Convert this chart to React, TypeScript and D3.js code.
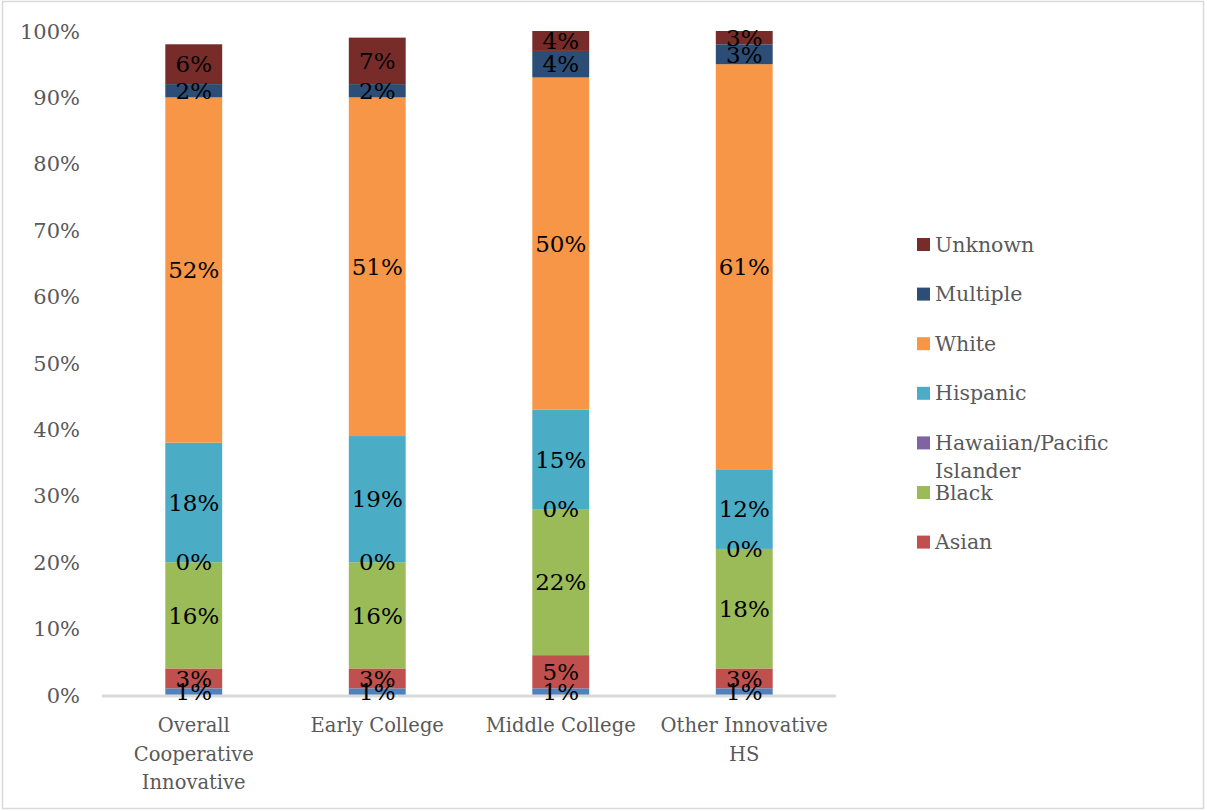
import { scaleBand, scaleLinear, stack } from "d3";

const width = 1207;
const height = 811;
const margin = { top: 31, right: 371, bottom: 116, left: 102 };
const innerWidth = width - margin.left - margin.right;
const innerHeight = height - margin.top - margin.bottom;

const categories = [
  ["Overall", "Cooperative", "Innovative"],
  ["Early College"],
  ["Middle College"],
  ["Other Innovative", "HS"],
];

// stack order from bottom to top
const seriesNames = [
  "American Indian",
  "Asian",
  "Black",
  "Hawaiian/Pacific Islander",
  "Hispanic",
  "White",
  "Multiple",
  "Unknown",
];
const seriesColors = [
  "#4f81bd",
  "#c0504d",
  "#9bbb59",
  "#8064a2",
  "#4bacc6",
  "#f79646",
  "#2c4d75",
  "#772c2a",
];

const americanIndian = [1, 1, 1, 1];
const asian = [3, 3, 5, 3];
const black = [16, 16, 22, 18];
const hawaiian = [0, 0, 0, 0];
const hispanic = [18, 19, 15, 12];
const white = [52, 51, 50, 61];
const multiple = [2, 2, 4, 3];
const unknown = [6, 7, 4, 3];

const yTicks = [0, 10, 20, 30, 40, 50, 60, 70, 80, 90, 100];

const legendItems = [
  { name: "Unknown", color: "#772c2a" },
  { name: "Multiple", color: "#2c4d75" },
  { name: "White", color: "#f79646" },
  { name: "Hispanic", color: "#4bacc6" },
  { name: "Hawaiian/Pacific|Islander", color: "#8064a2" },
  { name: "Black", color: "#9bbb59" },
  { name: "Asian", color: "#c0504d" },
];

const font = "'DejaVu Serif', 'Liberation Serif', serif";

export default function App() {
  const rows = categories.map((c, i) => ({
    key: c.join(" "),
    "American Indian": americanIndian[i],
    Asian: asian[i],
    Black: black[i],
    "Hawaiian/Pacific Islander": hawaiian[i],
    Hispanic: hispanic[i],
    White: white[i],
    Multiple: multiple[i],
    Unknown: unknown[i],
  }));
  const layers = stack<any>().keys(seriesNames)(rows);

  const x = scaleBand<string>()
    .domain(rows.map((r) => r.key))
    .range([0, innerWidth])
    .paddingInner(0.69)
    .paddingOuter(0.345);
  const y = scaleLinear().domain([0, 100]).range([innerHeight, 0]);
  const clampY = (v: number) => y(Math.min(v, 100));
  const cx = (i: number) => (x(rows[i].key) ?? 0) + x.bandwidth() / 2;

  return (
    <svg
      width={width}
      height={height}
      style={{ position: "absolute", left: 0, top: 0, background: "white" }}
      fontFamily={font}
    >
      <rect x={2.5} y={1.5} width={1201} height={807} fill="white" stroke="#d9d9d9" strokeWidth={1.5} />
      <g transform={`translate(${margin.left},${margin.top})`}>
        {yTicks.map((t) => (
          <text
            key={t}
            x={-22}
            y={y(t)}
            dy="0.36em"
            textAnchor="end"
            fontSize={21}
            fill="#595959"
          >
            {t}%
          </text>
        ))}
        {layers.map((layer, li) => (
          <g key={layer.key} fill={seriesColors[li]}>
            {layer.map((d, i) => {
              const top = clampY(d[1]);
              const bottom = clampY(d[0]);
              return (
                <rect
                  key={i}
                  x={x(rows[i].key)}
                  y={top}
                  width={x.bandwidth()}
                  height={Math.max(0, bottom - top)}
                />
              );
            })}
          </g>
        ))}
        <line x1={0} x2={innerWidth} y1={innerHeight + 1} y2={innerHeight + 1} stroke="#d9d9d9" strokeWidth={3} />
        {layers.map((layer) => (
          <g key={layer.key + "-lbl"}>
            {layer.map((d, i) => {
              const v = d[1] - d[0];
              const cy = (clampY(d[0]) + clampY(d[1])) / 2;
              return (
                <text
                  key={i}
                  x={cx(i)}
                  y={cy}
                  dy="0.36em"
                  textAnchor="middle"
                  fontSize={23}
                  fill="#000"
                >
                  {Math.round(v)}%
                </text>
              );
            })}
          </g>
        ))}
        {categories.map((lines, i) => (
          <text
            key={i}
            x={cx(i)}
            y={innerHeight + 37}
            textAnchor="middle"
            fontSize={19.5}
            fill="#595959"
          >
            {lines.map((l, j) => (
              <tspan key={j} x={cx(i)} dy={j === 0 ? 0 : 28.5}>
                {l}
              </tspan>
            ))}
          </text>
        ))}
      </g>
      <g transform="translate(917,244)">
        {legendItems.map((item, i) => (
          <g key={item.name} transform={`translate(0,${i * 49.6})`}>
            <rect x={0} y={-6} width={13} height={13} fill={item.color} />
            <text x={18} y={7.5} fontSize={20.5} fill="#595959">
              {item.name.split("|").map((l, j) => (
                <tspan key={j} x={18} dy={j === 0 ? 0 : 28}>
                  {l}
                </tspan>
              ))}
            </text>
          </g>
        ))}
      </g>
    </svg>
  );
}
